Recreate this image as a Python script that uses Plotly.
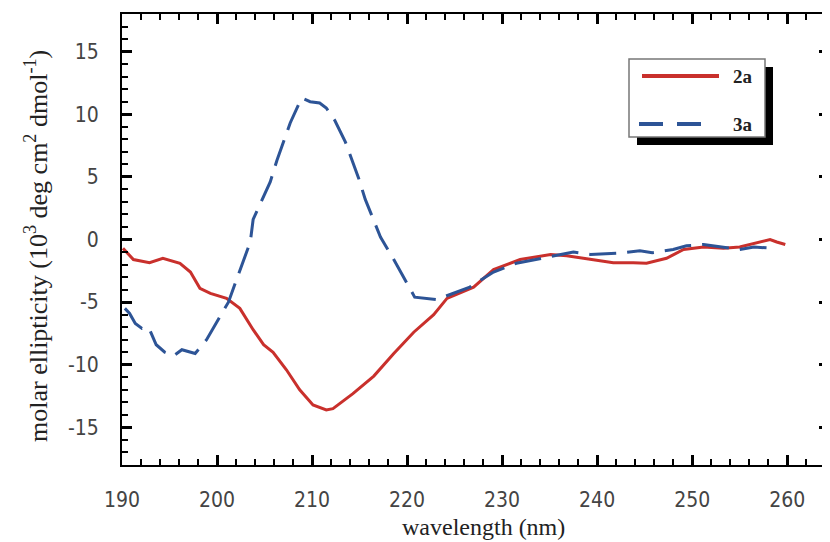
import plotly.graph_objects as go

# Series 2a (red, solid)
wl_2a = [190.1, 191.2, 192.9, 194.3, 196.1, 197.2, 198.2, 199.3, 201.0, 202.4, 203.8, 204.9,
         205.9, 207.3, 208.7, 210.1, 211.5, 212.2, 214.3, 216.5, 218.6, 220.7, 222.8, 224.2,
         227.0, 229.1, 231.9, 235.1, 236.8, 239.3, 241.7, 243.8, 245.2, 247.3, 249.1, 251.2,
         253.3, 255.0, 257.2, 258.2, 258.9, 259.8]
val_2a = [-0.7, -1.6, -1.85, -1.5, -1.9, -2.6, -3.9, -4.3, -4.7, -5.5, -7.2, -8.4,
          -9.0, -10.4, -12.0, -13.2, -13.6, -13.5, -12.3, -10.9, -9.1, -7.4, -6.0, -4.7,
          -3.8, -2.4, -1.6, -1.2, -1.3, -1.6, -1.85, -1.85, -1.9, -1.5, -0.8, -0.6,
          -0.7, -0.6, -0.2, 0.0, -0.2, -0.4]

# Series 3a (blue, dashed)
wl_3a = [190.3, 190.8, 191.4, 192.1, 192.8, 193.6, 194.5, 195.4, 196.3, 197.7, 198.9, 200.1,
         201.2, 202.1, 203.5, 203.8, 205.6, 206.3, 207.7, 208.9, 209.8, 210.8, 211.5, 212.4,
         213.5, 214.9, 215.6, 217.2, 218.6, 220.8, 223.1, 226.6, 229.1, 231.5, 234.0, 237.5,
         239.3, 242.1, 244.5, 245.8, 248.0, 249.4, 251.2, 253.0, 255.0, 256.5, 258.6]
val_3a = [-5.5, -5.9, -6.7, -7.1, -7.0, -8.4, -9.0, -9.3, -8.8, -9.1, -8.0, -6.4,
          -5.0, -3.1, -0.2, 1.6, 4.6, 6.3, 9.3, 11.3, 11.0, 10.9, 10.5, 9.5,
          7.8, 4.9, 3.2, 0.2, -1.6, -4.6, -4.8, -3.8, -2.6, -1.9, -1.5, -1.0,
          -1.2, -1.1, -0.9, -1.05, -0.8, -0.5, -0.4, -0.6, -0.8, -0.6, -0.7]

series_names = ["2a", "3a"]
x_tickvals = [190, 200, 210, 220, 230, 240, 250, 260]
x_ticktext = ["190", "200", "210", "220", "230", "240", "250", "260"]
y_tickvals = [-15, -10, -5, 0, 5, 10, 15]
y_ticktext = ["-15", "-10", "-5", "0", "5", "10", "15"]
x_title = "wavelength (nm)"
y_title = "molar ellipticity (10<sup>3</sup> deg cm<sup>2</sup> dmol<sup>-1</sup>)"

RED = "#c9302c"
BLUE = "#2d5496"

# page has an 8px body margin, so the figure is drawn 8px smaller and offset
OFF = 8
W, H = 830 - OFF, 542 - OFF
L, R, T, B = 122 - OFF, 1, 14 - OFF, 542 - 465
PW, PH = W - L - R, H - T - B

def px(x):  # page pixel -> paper x
    return (x - OFF - L) / PW

def py(y):  # page pixel -> paper y
    return (H - B - (y - OFF)) / PH

TICK_FONT = "Liberation Sans Narrow, DejaVu Sans Condensed, Arial Narrow, Liberation Sans, sans-serif"
SERIF = "Liberation Serif, Times New Roman, serif"

fig = go.Figure()
fig.add_trace(go.Scatter(x=wl_2a, y=val_2a, mode="lines", name=series_names[0],
                         line=dict(color=RED, width=3), showlegend=False))
fig.add_trace(go.Scatter(x=wl_3a, y=val_3a, mode="lines", name=series_names[1],
                         line=dict(color=BLUE, width=3, dash="27px,11px"), showlegend=False))

axis_common = dict(
    showline=True, linecolor="black", linewidth=2, mirror="ticks",
    ticks="inside", ticklen=10, tickwidth=3, tickcolor="black",
    showgrid=False, zeroline=False, automargin=False,
    tickfont=dict(family=TICK_FONT, size=21, color="#444"),
)

fig.update_xaxes(range=[190, 264.4], tickmode="array", tickvals=x_tickvals, ticktext=x_ticktext,
                 minor=dict(ticks="inside", ticklen=6, dtick=2, tick0=190, tickcolor="black", tickwidth=2),
                 ticklabelstandoff=15,
                 **axis_common)
fig.update_yaxes(range=[-18, 18], tickmode="array", tickvals=y_tickvals, ticktext=y_ticktext,
                 minor=dict(ticks="inside", ticklen=6, dtick=1, tick0=0, tickcolor="black", tickwidth=2),
                 ticklabelstandoff=17,
                 **axis_common)

# Legend box with drop shadow
shapes = [
    dict(type="rect", xref="paper", yref="paper", x0=px(637), x1=px(773), y0=py(145), y1=py(67),
         fillcolor="black", line=dict(width=0), layer="above"),
    dict(type="rect", xref="paper", yref="paper", x0=px(629), x1=px(765), y0=py(137), y1=py(59),
         fillcolor="white", line=dict(color="#777", width=1.5), layer="above"),
    dict(type="line", xref="paper", yref="paper", x0=px(642), x1=px(719), y0=py(76), y1=py(76),
         line=dict(color=RED, width=4), layer="above"),
    dict(type="line", xref="paper", yref="paper", x0=px(639), x1=px(715), y0=py(124), y1=py(124),
         line=dict(color=BLUE, width=4, dash="24px,14px"), layer="above"),
]
annotations = [
    dict(text="<b>%s</b>" % series_names[0], xref="paper", yref="paper", x=px(731), y=py(76),
         xanchor="left", yanchor="middle", showarrow=False,
         font=dict(family=SERIF, size=19, color="#222")),
    dict(text="<b>%s</b>" % series_names[1], xref="paper", yref="paper", x=px(731), y=py(124),
         xanchor="left", yanchor="middle", showarrow=False,
         font=dict(family=SERIF, size=19, color="#222")),
    dict(text=x_title, xref="paper", yref="paper", x=px(483), y=py(527),
         xanchor="center", yanchor="middle", showarrow=False,
         font=dict(family=SERIF, size=24, color="#222")),
    dict(text=y_title, xref="paper", yref="paper", x=px(36), y=py(246), textangle=-90,
         xanchor="center", yanchor="middle", showarrow=False,
         font=dict(family=SERIF, size=26, color="#222")),
]

fig.update_layout(
    width=W, height=H,
    margin=dict(l=L, r=R, t=T, b=B, pad=0),
    paper_bgcolor="white", plot_bgcolor="white",
    shapes=shapes, annotations=annotations,
    showlegend=False,
)

fig.write_html("out.html")
